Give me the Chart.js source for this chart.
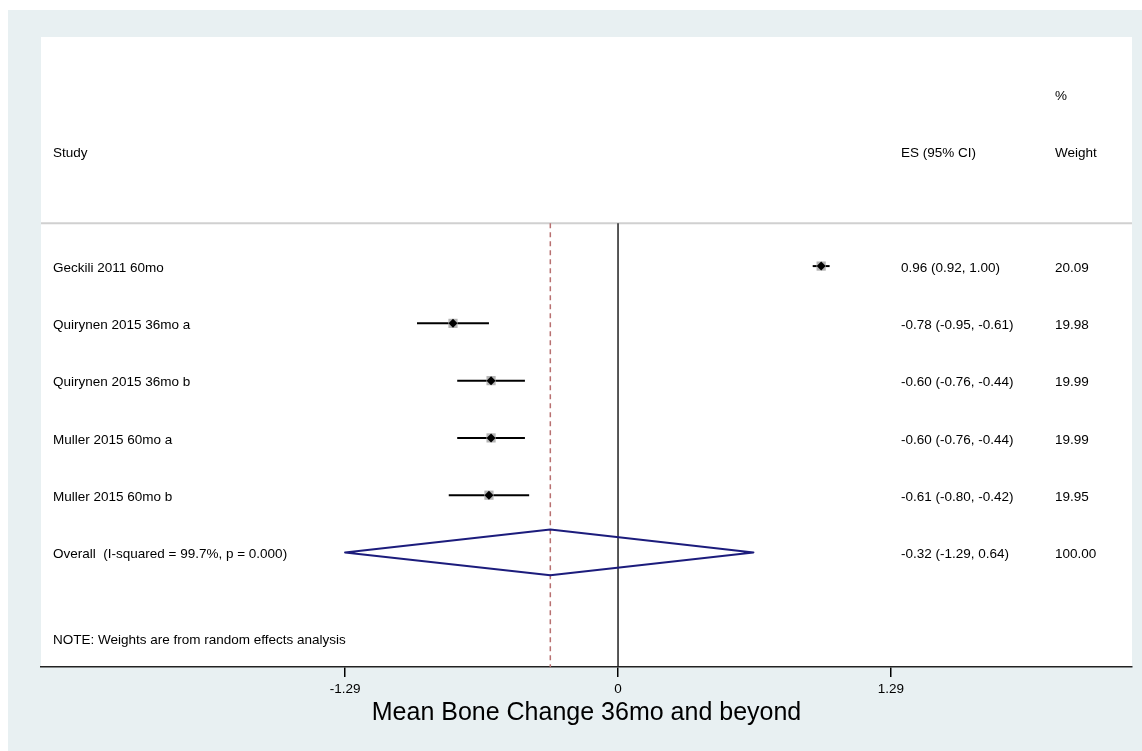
<!DOCTYPE html>
<html>
<head>
<meta charset="utf-8">
<script src="https://cdn.jsdelivr.net/npm/chart.js@4.4.1/dist/chart.umd.min.js"></script>
<style>
  html, body { margin: 0; padding: 0; background: #fff; }
  #wrap { width: 1142px; height: 751px; }
</style>
</head>
<body>
<div id="wrap"><canvas id="forest"></canvas></div>
<script>
(() => {
    // study rows
    const studies = ['Geckili 2011 60mo', 'Quirynen 2015 36mo a', 'Quirynen 2015 36mo b', 'Muller 2015 60mo a', 'Muller 2015 60mo b'];
    const es = [0.96, -0.78, -0.60, -0.60, -0.61];
    const lower = [0.92, -0.95, -0.76, -0.76, -0.80];
    const upper = [1.00, -0.61, -0.44, -0.44, -0.42];
    const weights = [20.09, 19.98, 19.99, 19.99, 19.95];

    // pooled estimate
    const overallLabel = 'Overall  (I-squared = 99.7%, p = 0.000)';
    const overallEs = -0.32;
    const overallLower = -1.29;
    const overallUpper = 0.64;
    const overallWeight = 100.00;

    const xTicks = [-1.29, 0, 1.29];
    const noteText = 'NOTE: Weights are from random effects analysis';
    const axisTitle = 'Mean Bone Change 36mo and beyond';

    const font = '"Liberation Sans", Arial, Helvetica, sans-serif';
    const fmt = v => v.toFixed(2);

    // row positions on the y scale (row 1 = first study)
    const rowOf = i => i + 1;
    const overallRow = studies.length + 1;
    const headerRow = -1;
    const pctRow = -2;
    const sepRow = 0.25;
    const noteRow = 7.5;
    const X_MIN = -2.727, X_MAX = 2.429;

    const datasets = [];

    // header separator
    datasets.push({
        type: 'line', data: [{x: X_MIN, y: sepRow}, {x: X_MAX, y: sepRow}],
        borderColor: '#d0d0d0', borderWidth: 2, pointRadius: 0, order: 5
    });
    // null line
    datasets.push({
        type: 'line', data: [{x: 0, y: sepRow}, {x: 0, y: 8}],
        borderColor: '#222', borderWidth: 1.5, pointRadius: 0, order: 4
    });
    // overall effect line
    datasets.push({
        type: 'line', data: [{x: overallEs, y: sepRow}, {x: overallEs, y: 8}],
        borderColor: '#b87070', borderWidth: 1.5, borderDash: [5, 4], pointRadius: 0, order: 4
    });

    // confidence intervals
    studies.forEach((s, i) => {
        datasets.push({
            type: 'line', data: [{x: lower[i], y: rowOf(i)}, {x: upper[i], y: rowOf(i)}],
            borderColor: '#000', borderWidth: 2, pointRadius: 0, order: 3
        });
    });

    // weight boxes
    datasets.push({
        type: 'scatter',
        data: es.map((v, i) => ({x: v, y: rowOf(i)})),
        pointStyle: 'rect',
        pointRadius: weights.map(w => 6.5 * Math.sqrt(w / 20)),
        backgroundColor: '#b4b4b4', borderWidth: 0, order: 2
    });
    // point estimates
    datasets.push({
        type: 'scatter',
        data: es.map((v, i) => ({x: v, y: rowOf(i)})),
        pointStyle: 'rectRot', pointRadius: 4.5,
        backgroundColor: '#000', borderWidth: 0, order: 1
    });

    // pooled diamond
    datasets.push({
        type: 'line',
        data: [
            {x: overallLower, y: overallRow},
            {x: overallEs, y: overallRow - 0.4},
            {x: overallUpper, y: overallRow},
            {x: overallEs, y: overallRow + 0.4},
            {x: overallLower, y: overallRow}
        ],
        borderColor: '#1c1c7c', borderWidth: 2, borderJoinStyle: 'round', borderCapStyle: 'round',
        pointRadius: 0, tension: 0, order: 1
    });

    const panelBg = {
        id: 'panelBg',
        beforeDraw(chart) {
            const {ctx, chartArea: a} = chart;
            ctx.save();
            ctx.fillStyle = '#fff';
            ctx.fillRect(0, 0, chart.width, chart.height);
            ctx.fillStyle = '#e8f0f2';
            ctx.fillRect(8, 10, chart.width - 8, chart.height - 10);
            ctx.fillStyle = '#fff';
            ctx.fillRect(a.left, a.top, a.right - a.left, a.bottom - a.top);
            ctx.restore();
        }
    };

    const tableText = {
        id: 'tableText',
        afterDatasetsDraw(chart) {
            const {ctx, chartArea: a, scales: {y}} = chart;
            const xLab = a.left + 12, xEs = a.left + 860, xW = a.left + 1014;
            const py = v => y.getPixelForValue(v) + 2;
            ctx.save();
            ctx.fillStyle = '#000';
            ctx.font = '13.5px ' + font;
            ctx.textAlign = 'left';
            ctx.textBaseline = 'middle';
            ctx.fillText('%', xW, py(pctRow));
            ctx.fillText('Study', xLab, py(headerRow));
            ctx.fillText('ES (95% CI)', xEs, py(headerRow));
            ctx.fillText('Weight', xW, py(headerRow));
            studies.forEach((s, i) => {
                const ry = py(rowOf(i));
                ctx.fillText(s, xLab, ry);
                ctx.fillText(`${fmt(es[i])} (${fmt(lower[i])}, ${fmt(upper[i])})`, xEs, ry);
                ctx.fillText(fmt(weights[i]), xW, ry);
            });
            const oy = py(overallRow);
            ctx.fillText(overallLabel, xLab, oy);
            ctx.fillText(`${fmt(overallEs)} (${fmt(overallLower)}, ${fmt(overallUpper)})`, xEs, oy);
            ctx.fillText(fmt(overallWeight), xW, oy);
            ctx.fillText(noteText, xLab, py(noteRow));
            ctx.restore();
        }
    };

    const ctx = document.getElementById('forest').getContext('2d');
    new Chart(ctx, {
        type: 'scatter',
        data: { datasets },
        options: {
            responsive: true,
            maintainAspectRatio: false,
            animation: false,
            events: [],
            layout: { padding: { left: 41, top: 37, right: 10, bottom: 0 } },
            plugins: { legend: { display: false }, tooltip: { enabled: false } },
            scales: {
                x: {
                    type: 'linear',
                    min: X_MIN, max: X_MAX,
                    afterBuildTicks: scale => { scale.ticks = xTicks.map(v => ({value: v})); },
                    afterFit: scale => { scale.height = 84; },
                    ticks: {
                        color: '#000', padding: 4, maxRotation: 0, autoSkip: false,
                        font: { family: font, size: 13.5 },
                        callback: v => v === 0 ? '0' : fmt(v)
                    },
                    grid: { drawOnChartArea: false, drawTicks: true, tickLength: 10, color: '#000', lineWidth: 1.5 },
                    border: { display: true, color: '#222', width: 1.5 },
                    title: {
                        display: true, text: axisTitle, color: '#000',
                        font: { family: font, size: 25 },
                        padding: { top: 0, bottom: 23 }
                    }
                },
                y: {
                    type: 'linear', display: false, reverse: true, min: -3, max: 8
                }
            }
        },
        plugins: [panelBg, tableText]
    });
})();
</script>
</body>
</html>
